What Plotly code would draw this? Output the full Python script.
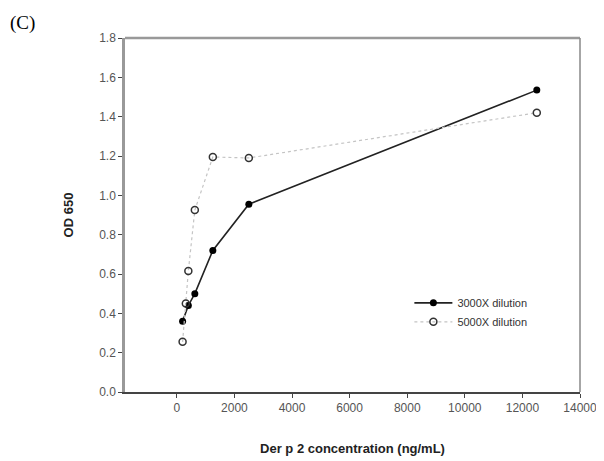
import plotly.graph_objects as go

# Der p 2 concentration (ng/mL) and OD 650 readings
conc_3000 = [200, 400, 625, 1250, 2500, 12500]
od_3000 = [0.36, 0.44, 0.50, 0.72, 0.955, 1.535]

conc_5000 = [200, 312, 400, 625, 1250, 2500, 12500]
od_5000 = [0.255, 0.45, 0.615, 0.925, 1.195, 1.19, 1.42]

x_ticks = [0, 2000, 4000, 6000, 8000, 10000, 12000, 14000]
y_ticks = [0.0, 0.2, 0.4, 0.6, 0.8, 1.0, 1.2, 1.4, 1.6, 1.8]

fig = go.Figure()

fig.add_trace(go.Scatter(
    x=conc_3000, y=od_3000,
    mode="lines+markers",
    name="3000X dilution",
    line=dict(color="#222222", width=1.6),
    marker=dict(symbol="circle", size=7, color="black"),
))
fig.add_trace(go.Scatter(
    x=conc_5000, y=od_5000,
    mode="lines+markers",
    name="5000X dilution",
    line=dict(color="#c4c4c4", width=1.2, dash="dot"),
    marker=dict(symbol="circle-open", size=7, color="#333333", line=dict(width=1.5)),
))

fig.update_xaxes(
    range=[-1800, 14000],
    tickvals=x_ticks,
    ticktext=[str(v) for v in x_ticks],
    ticks="outside", ticklen=4, tickcolor="#444444",
    showline=True, linecolor="#444444", linewidth=1.5,
    showgrid=False, zeroline=False, automargin=False,
    tickfont=dict(family="Liberation Sans, Arial", size=12, color="#555555"),
    title=dict(text="<b>Der p 2 concentration (ng/mL)</b>",
               font=dict(family="Liberation Sans, Arial", size=13, color="#222222"),
               standoff=30),
)
fig.update_yaxes(
    range=[0, 1.8],
    tickvals=y_ticks,
    ticktext=[f"{v:.1f}" for v in y_ticks],
    ticks="outside", ticklen=4, tickcolor="#444444",
    showline=True, linecolor="#999999", linewidth=2.5, mirror=False,
    showgrid=False, zeroline=False, automargin=False,
    tickfont=dict(family="Liberation Sans, Arial", size=12, color="#555555"),
    title=dict(text="<b>OD 650</b>",
               font=dict(family="Liberation Sans, Arial", size=13, color="#222222"),
               standoff=23),
)

# gray top and right frame lines
fig.add_shape(type="line", xref="paper", yref="paper", x0=0, x1=1, y0=1, y1=1,
              line=dict(color="#999999", width=2.5))
fig.add_shape(type="line", xref="paper", yref="paper", x0=1, x1=1, y0=0, y1=1,
              line=dict(color="#888888", width=1.5))

fig.add_annotation(
    text="(C)", xref="paper", yref="paper", x=-0.257, y=1.042,
    xanchor="left", yanchor="middle", showarrow=False,
    font=dict(family="Liberation Serif, Times New Roman", size=19, color="black"),
)

# page body adds an 8px offset, so the figure is sized 8px smaller
fig.update_layout(
    width=596, height=453,
    margin=dict(l=117, r=24, t=30, b=69, autoexpand=False),
    paper_bgcolor="white", plot_bgcolor="white",
    showlegend=True,
    legend=dict(
        x=0.625, y=0.225, xanchor="left", yanchor="middle",
        bgcolor="rgba(0,0,0,0)",
        font=dict(family="Liberation Sans, Arial", size=11, color="#333333"),
        itemwidth=38, tracegroupgap=0,
    ),
)

fig.write_html("out.html")
